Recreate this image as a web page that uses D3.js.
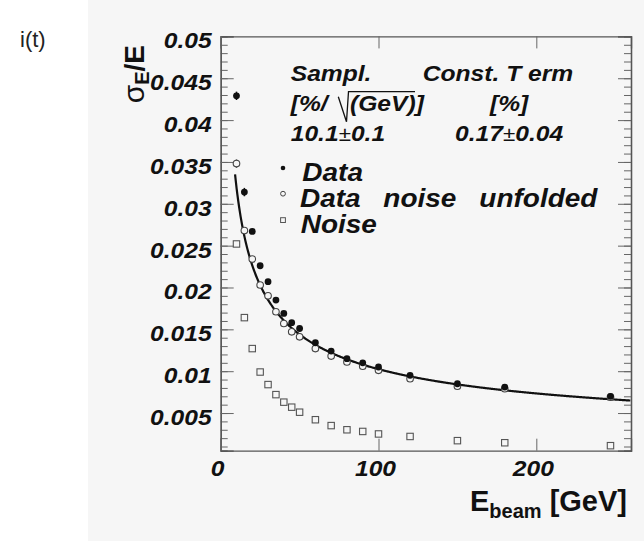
<!DOCTYPE html>
<html>
<head>
<meta charset="utf-8">
<script src="https://cdn.jsdelivr.net/npm/d3@7"></script>
<style>
  html, body { margin: 0; padding: 0; background: #ffffff; }
  svg { display: block; }
</style>
</head>
<body>
<svg id="chart" width="644" height="541"></svg>
<script>
// Beam energies (GeV) of the measured points
const energies = [10, 15, 20, 25, 30, 35, 40, 45, 50, 60, 70, 80, 90, 100, 120, 150, 180, 247];

// Relative energy resolution sigma_E/E
const dataValues     = [0.0429, 0.0314, 0.0267, 0.0226, 0.0207, 0.0185, 0.0169, 0.0158, 0.0151,
                        0.0134, 0.0124, 0.0115, 0.0110, 0.0105, 0.0095, 0.0085, 0.0081, 0.0070];
const dataErrors     = [0.0005, 0.0005, 0.0003, 0.0003, 0.0003, 0.0002, 0.0002, 0.0002, 0.0002,
                        0.0002, 0.0002, 0.0002, 0.0002, 0.0002, 0.0002, 0.0002, 0.0002, 0.0002];
const unfoldedValues = [0.0348, 0.0268, 0.0234, 0.0203, 0.0190, 0.0171, 0.0157, 0.0147, 0.0141,
                        0.0127, 0.0118, 0.0111, 0.0106, 0.0101, 0.0091, 0.0082, 0.0079, 0.0069];
const unfoldedErrors = [0.0005, 0.0003, 0.0003, 0.0002, 0.0002, 0.0002, 0.0002, 0.0002, 0.0002,
                        0.0002, 0.0002, 0.0002, 0.0002, 0.0002, 0.0002, 0.0002, 0.0002, 0.0002];
const noiseValues    = [0.0252, 0.0164, 0.0127, 0.0099, 0.0084, 0.0072, 0.0063, 0.0057, 0.0051,
                        0.0042, 0.0035, 0.0030, 0.0028, 0.0025, 0.0022, 0.0017, 0.00145, 0.0011];

// Fit parameters: sampling term [%/sqrt(GeV)] and constant term [%]
const samplingTerm = 10.1, samplingErr = 0.1;
const constantTerm = 0.17, constantErr = 0.04;

// Axis ticks
const xTicks = [0, 100, 200];
const yTicks = [0.005, 0.01, 0.015, 0.02, 0.025, 0.03, 0.035, 0.04, 0.045, 0.05];
const yTickLabels = ["0.005", "0.01", "0.015", "0.02", "0.025", "0.03", "0.035", "0.04", "0.045", "0.05"];
const yMinorTicks = d3.range(1, 50).map(i => i / 1000);

const legendEntries = ["Data", "Data noise unfolded", "Noise"];

const svg = d3.select("#chart");
const FONT = "'Liberation Sans', Arial, Helvetica, sans-serif";
const STRETCH = 1.12;   // the italic labels are set a little wider than the stock face

// pad background
svg.append("rect").attr("x", 88).attr("y", 0).attr("width", 556).attr("height", 541).attr("fill", "#f6f6f6");

// page label
svg.append("text").attr("x", 20).attr("y", 47).attr("font-family", FONT)
  .attr("font-size", 22).attr("fill", "#222").text("i(t)");

const plot = { left: 220.7, right: 631, top: 36.4, bottom: 450.7 };
const x = d3.scaleLinear().domain([0, 260]).range([plot.left, plot.right]);
const y = d3.scaleLinear().domain([0.0005, 0.05]).range([plot.bottom, plot.top]);

// frame with inward ticks
const frameColor = "#555";
const axL = d3.axisLeft(y).tickValues(yTicks).tickSize(-13).tickFormat("");
const axLm = d3.axisLeft(y).tickValues(yMinorTicks).tickSize(-7).tickFormat("");
const axR = d3.axisRight(y).tickValues(yTicks).tickSize(-13).tickFormat("");
const axRm = d3.axisRight(y).tickValues(yMinorTicks).tickSize(-7).tickFormat("");
const axB = d3.axisBottom(x).tickValues(xTicks).tickSize(-12).tickFormat("");
const axT = d3.axisTop(x).tickValues(xTicks).tickSize(-12).tickFormat("");

function drawAxis(ax, tx, ty) {
  const g = svg.append("g").attr("transform", `translate(${tx},${ty})`).call(ax);
  g.selectAll("path.domain").attr("stroke", frameColor).attr("stroke-width", 1.3);
  g.selectAll(".tick line").attr("stroke", "#666").attr("stroke-width", 1);
  return g;
}
drawAxis(axLm, plot.left, 0);
drawAxis(axL, plot.left, 0);
drawAxis(axRm, plot.right, 0);
drawAxis(axR, plot.right, 0);
drawAxis(axB, 0, plot.bottom);
drawAxis(axT, 0, plot.top);

// bold italic text helper (stretched horizontally)
function italicText(px, py, str, size, anchor) {
  return svg.append("text")
    .attr("transform", `translate(${px},${py}) scale(${STRETCH},1)`)
    .attr("font-family", FONT).attr("font-size", size)
    .attr("font-weight", "bold").attr("font-style", "italic")
    .attr("text-anchor", anchor || "start").attr("fill", "#111")
    .text(str);
}

// tick labels
yTicks.forEach((v, i) => {
  italicText(211.7, y(v) + 12, yTickLabels[i], 22, "end");
});
xTicks.forEach(v => {
  italicText(x(v) - 3, 476, String(v), 22, "middle");
});

// x axis title
const xt = svg.append("text").attr("x", 627).attr("y", 511).attr("text-anchor", "end")
  .attr("font-family", FONT).attr("font-weight", "bold").attr("fill", "#111");
xt.append("tspan").attr("font-size", 29).text("E");
xt.append("tspan").attr("font-size", 20).attr("dy", 7).text("beam");
xt.append("tspan").attr("font-size", 29).attr("dy", -7).text(" [GeV]");

// y axis title
const yt = svg.append("text").attr("transform", "translate(144,45) rotate(-90)")
  .attr("text-anchor", "end").attr("font-family", FONT).attr("font-weight", "bold").attr("fill", "#111");
yt.append("tspan").attr("font-size", 30).attr("font-weight", "normal").text("σ");
yt.append("tspan").attr("font-size", 20).attr("dy", 5).text("E");
yt.append("tspan").attr("font-size", 28).attr("dy", -5).text("/E");

// fit curve: sigma/E = a/sqrt(E) (+) b
const a = samplingTerm / 100, b = constantTerm / 100;
const fitE = d3.range(9.1, 260.01, 0.5);
const line = d3.line().x(e => x(e)).y(e => y(Math.hypot(a / Math.sqrt(e), b))).curve(d3.curveMonotoneX);
svg.append("path").datum(fitE).attr("d", line).attr("fill", "none")
  .attr("stroke", "#111").attr("stroke-width", 2.2);

// error bars
function errorBars(vals, errs, color) {
  svg.append("g").selectAll("line").data(energies).join("line")
    .attr("x1", (e) => x(e)).attr("x2", (e) => x(e))
    .attr("y1", (e, i) => y(vals[i] - errs[i])).attr("y2", (e, i) => y(vals[i] + errs[i]))
    .attr("stroke", color).attr("stroke-width", 1.5);
}
errorBars(dataValues, dataErrors, "#111");
errorBars(unfoldedValues, unfoldedErrors, "#444");

// noise squares
svg.append("g").selectAll("rect").data(energies).join("rect")
  .attr("x", e => x(e) - 3.2).attr("y", (e, i) => y(noiseValues[i]) - 3.2)
  .attr("width", 6.4).attr("height", 6.4).attr("fill", "none")
  .attr("stroke", "#555").attr("stroke-width", 1.1);

// unfolded open circles
svg.append("g").selectAll("circle").data(energies).join("circle")
  .attr("cx", e => x(e)).attr("cy", (e, i) => y(unfoldedValues[i])).attr("r", 3.3)
  .attr("fill", "#f6f6f6").attr("stroke", "#444").attr("stroke-width", 1.1);

// data filled circles
svg.append("g").selectAll("circle").data(energies).join("circle")
  .attr("cx", e => x(e)).attr("cy", (e, i) => y(dataValues[i])).attr("r", 3.4)
  .attr("fill", "#111");

// fit result header
italicText(290.7, 81, "Sampl.", 22);
italicText(422.7, 81, "Const. T erm", 22);
italicText(290.7, 111, "[%/", 22);
svg.append("path").attr("d", "M338.3,96.7 L346.5,121.7 L348.5,91.7 L415,91.7")
  .attr("fill", "none").attr("stroke", "#111").attr("stroke-width", 1.3);
italicText(350, 111, "(GeV)]", 22);
italicText(490, 111, "[%]", 22);

function valueText(px, py, v, err) {
  const t = italicText(px, py, "", 22);
  t.append("tspan").text(v);
  t.append("tspan").attr("font-weight", "normal").attr("font-style", "normal").attr("font-size", 20).text("±");
  t.append("tspan").text(err);
}
valueText(290.7, 141, samplingTerm.toFixed(1), samplingErr.toFixed(1));
valueText(455, 141, constantTerm.toFixed(2), constantErr.toFixed(2));

// legend
const legendY = [181, 206.7, 233.3];
svg.append("circle").attr("cx", 283).attr("cy", legendY[0] - 13).attr("r", 2.3).attr("fill", "#111");
svg.append("circle").attr("cx", 283).attr("cy", legendY[1] - 13).attr("r", 2.4)
  .attr("fill", "none").attr("stroke", "#444").attr("stroke-width", 1);
svg.append("rect").attr("x", 280.6).attr("y", legendY[2] - 15.6).attr("width", 4.8).attr("height", 4.8)
  .attr("fill", "none").attr("stroke", "#555").attr("stroke-width", 1);

italicText(302.3, legendY[0], legendEntries[0], 25);
const words = legendEntries[1].split(" ");
const wordX = [300, 383.3, 479.3];
words.forEach((w, i) => italicText(wordX[i], legendY[1], w, 25));
italicText(300.7, legendY[2], legendEntries[2], 25);
</script>
</body>
</html>
